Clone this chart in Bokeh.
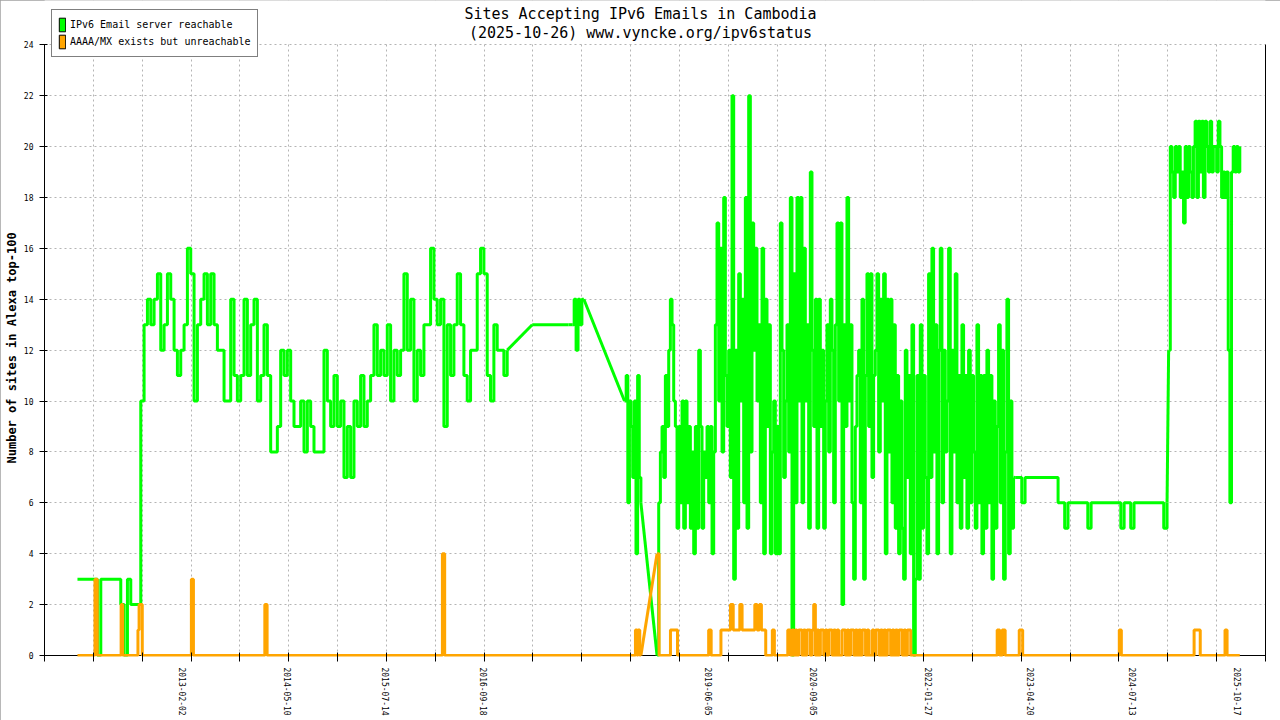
import numpy as np
import pandas as pd
from bokeh.plotting import figure
from bokeh.models import (ColumnDataSource, Range1d, FixedTicker, CustomJSTickFormatter,
                          LinearAxis, Legend, LegendItem, Label, BoxAnnotation, Title, Span)
from bokeh.embed import file_html
from bokeh.resources import INLINE

# ---------------- texts ----------------
TITLE = "Sites Accepting IPv6 Emails in Cambodia"
SUBTITLE = "(2025-10-26) www.vyncke.org/ipv6status"
Y_LABEL = "Number of sites in Alexa top-100"
GREEN_LABEL = "IPv6 Email server reachable"
ORANGE_LABEL = "AAAA/MX exists but unreachable"

# ---------------- axes ----------------
AXIS_START = "2011-06-05"
AXIS_END = "2026-02-16"
x_label_dates = ["2013-02-02", "2014-05-10", "2015-07-14", "2016-09-18", "2019-06-05",
                 "2020-09-05", "2022-01-27", "2023-04-20", "2024-07-13", "2025-10-17"]
y_ticks = [0, 2, 4, 6, 8, 10, 12, 14, 16, 18, 20, 22, 24]

# ---------------- green series: IPv6 Email server reachable ----------------
# evenly sampled stretches (first date, last date, values)
g1_span = ("2011-10-28", "2016-12-30")
g1_values = [3, 3, 3, 3, 3, 3, 0, 3, 3, 3, 3, 3, 3, 2, 0, 3, 2, 2, 2, 10,
             13, 14, 13, 14, 15, 12, 13, 15, 14, 12, 11, 12, 13, 16, 15, 10, 13, 14, 15, 13,
             15, 13, 12, 12, 10, 10, 14, 11, 10, 11, 14, 11, 13, 14, 10, 11, 13, 11, 8, 8,
             9, 12, 11, 12, 10, 9, 9, 10, 8, 10, 9, 8, 8, 8, 12, 10, 9, 11, 9, 10,
             7, 9, 7, 10, 9, 11, 9, 10, 11, 13, 11, 12, 11, 13, 10, 12, 11, 12, 15, 12,
             14, 10, 12, 11, 13, 13, 16, 14, 13, 14, 9, 13, 11, 13, 15, 13, 11, 10, 12, 12,
             15, 16, 15, 11, 10, 13, 12, 12, 11, 12]
g2_span = ("2017-04-19", "2017-09-26")
g2_values = [13, 13]
g3_span = ("2017-10-12", "2017-12-02")
g3_values = [13, 14, 12, 14, 13, 14, 14]
g4_span = ("2018-05-30", "2018-08-10")
g4_values = [10, 11, 6, 10, 9, 7, 10, 4, 11, 7, 6]
g5_span = ("2018-10-20", "2023-02-04")
g5_values = [0, 6, 8, 9, 7, 11, 9, 12, 14, 13,
             10, 9, 5, 9, 6, 10, 5, 10, 6, 9,
             5, 8, 4, 9, 5, 12, 9, 5, 8, 7,
             9, 6, 9, 4, 8, 13, 17, 10, 16, 8,
             18, 11, 9, 12, 7, 22, 3, 12, 5, 15,
             10, 14, 6, 18, 5, 22, 8, 17, 12, 16,
             10, 13, 6, 16, 4, 14, 9, 13, 4, 8,
             10, 4, 9, 4, 17, 12, 7, 10, 13, 8,
             18, 0, 15, 6, 18, 10, 18, 6, 16, 10,
             13, 5, 19, 12, 9, 14, 5, 14, 9, 12,
             5, 10, 13, 8, 14, 12, 6, 13, 17, 10,
             17, 2, 13, 9, 18, 10, 13, 6, 3, 9,
             11, 12, 6, 14, 3, 11, 15, 9, 15, 7,
             11, 12, 15, 8, 14, 10, 15, 4, 14, 8,
             14, 6, 13, 5, 11, 4, 10, 5, 3, 12,
             7, 11, 4, 13, 0, 3, 11, 3, 13, 5,
             11, 7, 4, 15, 7, 16, 8, 13, 4, 12,
             16, 6, 12, 8, 10, 16, 4, 12, 8, 15,
             6, 11, 5, 13, 7, 11, 5, 12, 6, 11,
             8, 5, 13, 6, 11, 4, 11, 5, 12, 6,
             11, 3, 10, 5, 9, 13, 6, 12, 3, 8,
             14, 4, 10, 5, 7]
g6_span = ("2023-02-11", "2024-12-10")
g6_values = [7, 7, 6, 7, 7, 7, 7, 7, 7, 7, 7, 7, 7,
             6, 6, 5, 6, 6, 6, 6, 6, 6, 5,
             6, 6, 6, 6, 6, 6, 6, 6, 6, 5,
             6, 6, 5, 6, 6, 6, 6, 6, 6, 6,
             6, 6, 5, 6]
g7_span = ("2024-12-17", "2025-10-26")
g7_values = [12, 20, 19, 18, 20, 19, 20, 18, 19, 17,
             20, 18, 20, 19, 18, 20, 21, 18, 21, 19,
             21, 18, 21, 20, 19, 21, 19, 20, 20, 19,
             21, 20, 18, 19, 18, 19, 12, 6, 19, 20,
             19, 20, 19, 20]

# ---------------- orange series: AAAA/MX exists but unreachable ----------------
oa_dates = ["2011-10-28", "2012-01-13", "2012-01-23", "2012-05-07", "2012-05-14",
            "2012-07-20", "2012-07-25", "2012-08-08", "2013-03-12", "2013-03-21",
            "2014-01-29", "2014-02-08", "2016-03-20", "2016-03-30", "2018-07-17",
            "2018-07-24", "2018-07-28", "2018-08-05", "2018-08-10"]
oa_values = [0, 3, 0, 2, 0, 1, 2, 0, 3, 0, 2, 0, 4, 0, 1, 0, 1, 0, 0]
ob1_dates = ["2018-10-20", "2018-10-29", "2018-12-18", "2019-01-18", "2019-06-04",
             "2019-06-15", "2019-07-28", "2019-09-08", "2019-09-20", "2019-10-19",
             "2019-10-29", "2019-12-24", "2020-01-03", "2020-01-13", "2020-01-22",
             "2020-02-10", "2020-03-10", "2020-03-19", "2020-05-17", "2020-05-29",
             "2020-06-05", "2020-06-12"]
ob1_values = [4, 0, 1, 0, 1, 0, 1, 2, 1, 2, 1, 2, 1, 2, 1, 0, 1, 0, 1, 0, 1, 0]
ob2_span = ("2020-06-19", "2021-11-16")
ob2_values = [1, 0, 1, 1, 0, 1, 0, 1, 1, 0,
              1, 2, 0, 1, 0, 1, 1, 0, 1, 0,
              1, 1, 0, 1, 0, 1, 0, 0, 1, 1,
              0, 1, 0, 1, 1, 0, 1, 0, 1, 0,
              1, 1, 0, 1, 0, 0, 1, 0, 1, 1,
              0, 1, 0, 1, 0, 1, 1, 0, 1, 0,
              1, 0, 1, 1, 0, 1, 0, 1, 1, 0,
              0]
ob3_dates = ["2022-11-24", "2022-12-05", "2022-12-16", "2022-12-29", "2023-03-01",
             "2023-03-16", "2024-05-14", "2024-05-23", "2025-04-08", "2025-05-05",
             "2025-08-22", "2025-08-31", "2025-10-26"]
ob3_values = [1, 0, 1, 0, 1, 0, 1, 0, 1, 0, 1, 0, 0]

GREEN = "#00ff00"
ORANGE = "#ffa500"
MONO = "DejaVu Sans Mono"

# layout (pixels)
W, H = 1280, 720
BORDER_L, BORDER_R, BORDER_T, BORDER_B = 44, 15, 0, 64
FRAME_W = W - BORDER_L - BORDER_R
FRAME_H = H - BORDER_T - BORDER_B
ZERO_FROM_TOP = FRAME_H - 1      # the zero line sits 1px above the frame's lower edge
TOP_FROM_TOP = 44.3              # the "24" line
Y_MAX = 24
PX_PER_UNIT = (ZERO_FROM_TOP - TOP_FROM_TOP) / Y_MAX
Y_START = -(FRAME_H - ZERO_FROM_TOP) / PX_PER_UNIT
Y_END = ZERO_FROM_TOP / PX_PER_UNIT


def to_ms(dates):
    return list(pd.DatetimeIndex(pd.to_datetime(dates)).asi8 / 1e6)


def spaced(span, values):
    idx = pd.date_range(pd.Timestamp(span[0]), pd.Timestamp(span[1]), periods=len(values))
    return list(idx.asi8 / 1e6), list(values)


def explicit(dates, values):
    return to_ms(dates), list(values)


green_segments = [spaced(g1_span, g1_values), spaced(g2_span, g2_values),
                  spaced(g3_span, g3_values), spaced(g4_span, g4_values),
                  spaced(g5_span, g5_values), spaced(g6_span, g6_values),
                  spaced(g7_span, g7_values)]
ob_parts = [explicit(ob1_dates, ob1_values), spaced(ob2_span, ob2_values),
            explicit(ob3_dates, ob3_values)]
orange_segments = [explicit(oa_dates, oa_values),
                   (sum([a for a, _ in ob_parts], []), sum([b for _, b in ob_parts], []))]

x_start, x_end = to_ms([AXIS_START, AXIS_END])
grid_ms = list(np.linspace(x_start, x_end, 26))
label_ms = to_ms(x_label_dates)

p = figure(width=W, height=H, x_axis_type="datetime",
           x_range=Range1d(x_start, x_end), y_range=Range1d(Y_START, Y_END),
           output_backend="svg", toolbar_location=None,
           min_border_left=BORDER_L, min_border_right=BORDER_R,
           min_border_top=BORDER_T, min_border_bottom=BORDER_B)
p.outline_line_color = None
p.background_fill_color = "white"
p.border_fill_color = "white"
p.styles = {"outline": "1px solid #a0a0a0", "outline-offset": "-1px"}

# bottom axis: labels at given dates, tick marks at the grid positions
xa = p.xaxis[0]
xa.ticker = FixedTicker(ticks=label_ms, minor_ticks=grid_ms)
xa.formatter = CustomJSTickFormatter(code="return new Date(tick).toISOString().slice(0, 10);")
xa.major_label_orientation = "vertical"
xa.major_tick_in = 0
xa.major_tick_out = 0
xa.major_tick_line_color = None
xa.minor_tick_in = 4
xa.minor_tick_out = 5
xa.minor_tick_line_color = "black"
xa.major_label_standoff = 6
xa.major_label_text_font = MONO
xa.major_label_text_font_size = "8px"
xa.major_label_text_color = "black"
xa.axis_line_color = None

# zero baseline drawn beneath the series (the orange series covers it)
p.add_layout(Span(location=0, dimension="width", line_color="black", line_width=1,
                  level="underlay"))

ya = p.yaxis[0]
ya.ticker = FixedTicker(ticks=y_ticks)
ya.bounds = (Y_START, Y_MAX)
ya.major_tick_in = 3
ya.major_tick_out = 5
ya.minor_tick_line_color = None
ya.major_label_standoff = 6
ya.major_label_text_font = MONO
ya.major_label_text_font_size = "8px"
ya.major_label_text_color = "black"
ya.axis_line_color = "black"

p.xgrid.ticker = FixedTicker(ticks=grid_ms[1:-1])
p.ygrid.ticker = FixedTicker(ticks=y_ticks[1:])
p.grid.grid_line_color = "#b4b4b4"
p.grid.grid_line_dash = "2 3"
p.grid.grid_line_width = 1

right = LinearAxis(ticker=FixedTicker(ticks=[]), major_label_text_font_size="0px",
                   major_tick_in=0, major_tick_out=0, minor_tick_in=0, minor_tick_out=0,
                   major_label_standoff=0, axis_line_color="black", bounds=(Y_START, Y_MAX))
p.add_layout(right, "right")

# value-axis name, placed along the 0..24 span
p.add_layout(Title(text=Y_LABEL, align="left", offset=193, standoff=4,
                   text_font=MONO, text_font_size="12px", text_font_style="bold",
                   text_color="black"), "left")


def draw(segments, color):
    for i, (xs, ys) in enumerate(segments):
        src = ColumnDataSource(dict(x=xs, y=ys))
        p.step("x", "y", source=src, mode="after", line_color=color, line_width=3)
        if i > 0:
            px, py = segments[i - 1]
            p.line([px[-1], xs[0]], [py[-1], ys[0]], line_color=color, line_width=3)


draw(green_segments, GREEN)
draw(orange_segments, ORANGE)

# blank the strip above the top of the value axis (holds the title and the key)
p.add_layout(BoxAnnotation(bottom=Y_MAX + 0.04, fill_color="white", fill_alpha=1.0,
                           line_color=None, level="annotation"))

title_x = x_start + (x_end - x_start) * (640 - BORDER_L) / FRAME_W
for text, px_from_top in [(TITLE, 13.7), (SUBTITLE, 32.5)]:
    y_val = Y_END - (Y_END - Y_START) * px_from_top / FRAME_H
    p.add_layout(Label(x=title_x, y=y_val, text=text, text_align="center",
                       text_baseline="middle", text_font=MONO, text_font_size="15px",
                       text_color="black"))

# key swatches (hidden renderers, shown only in the key)
sw_g = p.vbar(x=[x_start], top=[1], width=1, fill_color=GREEN, line_color="black",
              line_width=1, visible=False)
sw_o = p.vbar(x=[x_start], top=[1], width=1, fill_color=ORANGE, line_color="black",
              line_width=1, visible=False)
legend = Legend(items=[LegendItem(label=GREEN_LABEL, renderers=[sw_g], index=0),
                       LegendItem(label=ORANGE_LABEL, renderers=[sw_o], index=0)],
                location=(7, 599), orientation="vertical",
                border_line_color="black", border_line_width=1,
                background_fill_color="white", background_fill_alpha=1.0,
                inactive_fill_alpha=0.0,
                padding=6, spacing=0, margin=0, label_standoff=4,
                glyph_width=8, glyph_height=17, label_height=17,
                label_text_font=MONO, label_text_font_size="10px",
                label_text_color="black")
p.add_layout(legend)

open("out.html", "w").write(file_html(p, INLINE))
